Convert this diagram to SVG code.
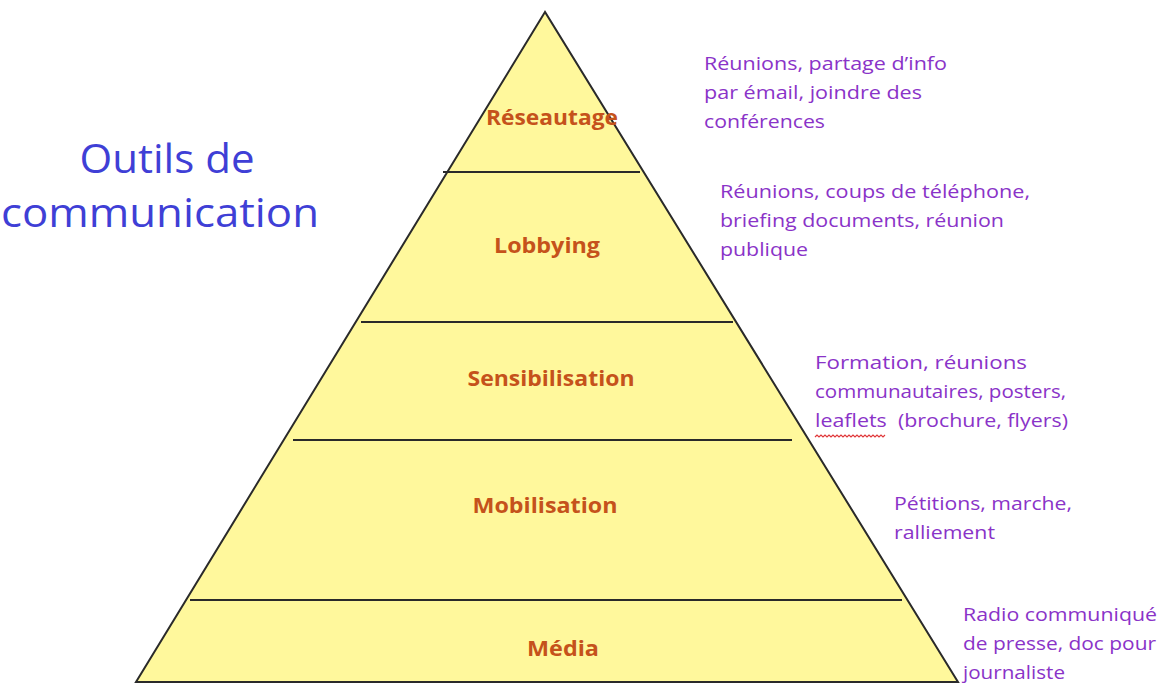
<svg xmlns="http://www.w3.org/2000/svg" width="1170" height="686" viewBox="0 0 1170 686">
<style>
.lvl{font-family:"Open Sans","Liberation Sans",sans-serif;font-weight:bold;font-size:21px;fill:#C5521B;text-anchor:middle}
.desc{font-family:"Open Sans","Liberation Sans",sans-serif;font-size:19px;fill:#8A33C8}
.title{font-family:"Open Sans","Liberation Sans",sans-serif;font-size:40px;fill:#3F3FD6;text-anchor:middle}
.div{stroke:#2a2a2a;stroke-width:2;fill:none}
</style>
<rect width="1170" height="686" fill="#ffffff"/>
<g id="title">
<text class="title" x="167" y="173" textLength="175" lengthAdjust="spacingAndGlyphs">Outils de</text>
<text class="title" x="160" y="227" textLength="318" lengthAdjust="spacingAndGlyphs">communication</text>
</g>
<g id="pyramid">
<polygon points="545,12 136,682 958,682" fill="#FFF89C" stroke="#2a2a2a" stroke-width="2" stroke-linejoin="miter"/>
</g>
<g id="connectors">
<line class="div" x1="443" y1="172" x2="640" y2="172"/>
<line class="div" x1="361" y1="322" x2="733" y2="322"/>
<line class="div" x1="293" y1="440" x2="792" y2="440"/>
<line class="div" x1="190" y1="600" x2="902" y2="600"/>
</g>
<g id="reseautage"><text class="lvl" x="552" y="125" textLength="132" lengthAdjust="spacingAndGlyphs">Réseautage</text></g>
<g id="lobbying"><text class="lvl" x="547" y="253" textLength="106" lengthAdjust="spacingAndGlyphs">Lobbying</text></g>
<g id="sensibilisation"><text class="lvl" x="551" y="386" textLength="167" lengthAdjust="spacingAndGlyphs">Sensibilisation</text></g>
<g id="mobilisation"><text class="lvl" x="545" y="513" textLength="145" lengthAdjust="spacingAndGlyphs">Mobilisation</text></g>
<g id="media"><text class="lvl" x="563" y="656" textLength="72" lengthAdjust="spacingAndGlyphs">Média</text></g>
<g id="desc-reseautage">
<text class="desc" x="704" y="70" textLength="243" lengthAdjust="spacingAndGlyphs">Réunions, partage d’info</text>
<text class="desc" x="704" y="99" textLength="218" lengthAdjust="spacingAndGlyphs">par émail, joindre des</text>
<text class="desc" x="704" y="128" textLength="121" lengthAdjust="spacingAndGlyphs">conférences</text>
</g>
<g id="desc-lobbying">
<text class="desc" x="720" y="198" textLength="310" lengthAdjust="spacingAndGlyphs">Réunions, coups de téléphone,</text>
<text class="desc" x="720" y="227" textLength="284" lengthAdjust="spacingAndGlyphs">briefing documents, réunion</text>
<text class="desc" x="720" y="256" textLength="88" lengthAdjust="spacingAndGlyphs">publique</text>
</g>
<g id="desc-sensibilisation">
<text class="desc" x="815" y="369" textLength="212" lengthAdjust="spacingAndGlyphs">Formation, réunions</text>
<text class="desc" x="815" y="398" textLength="251" lengthAdjust="spacingAndGlyphs">communautaires, posters,</text>
<text class="desc" x="815" y="427" textLength="253" lengthAdjust="spacingAndGlyphs" xml:space="preserve">leaflets  (brochure, flyers)</text>
<path d="M815,437 l2,-2 l2,2 l2,-2 l2,2 l2,-2 l2,2 l2,-2 l2,2 l2,-2 l2,2 l2,-2 l2,2 l2,-2 l2,2 l2,-2 l2,2 l2,-2 l2,2 l2,-2 l2,2 l2,-2 l2,2 l2,-2 l2,2 l2,-2 l2,2 l2,-2 l2,2 l2,-2 l2,2 l2,-2 l2,2 l2,-2 l2,2 l2,-2" fill="none" stroke="#E0383A" stroke-width="1.2"/>
</g>
<g id="desc-mobilisation">
<text class="desc" x="894" y="510" textLength="178" lengthAdjust="spacingAndGlyphs">Pétitions, marche,</text>
<text class="desc" x="894" y="539" textLength="101" lengthAdjust="spacingAndGlyphs">ralliement</text>
</g>
<g id="desc-media">
<text class="desc" x="963" y="621" textLength="194" lengthAdjust="spacingAndGlyphs">Radio communiqué</text>
<text class="desc" x="963" y="650" textLength="193" lengthAdjust="spacingAndGlyphs">de presse, doc pour</text>
<text class="desc" x="963" y="679" textLength="102" lengthAdjust="spacingAndGlyphs">journaliste</text>
</g>
</svg>
